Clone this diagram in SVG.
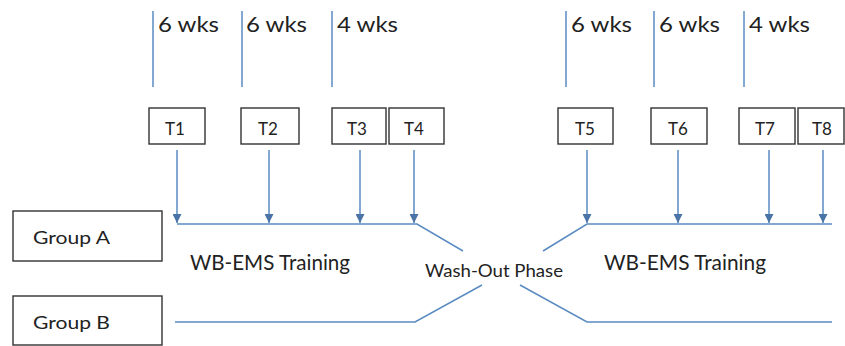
<svg xmlns="http://www.w3.org/2000/svg" width="845" height="346" viewBox="0 0 845 346">
<defs>
<marker id="ah" viewBox="0 0 10 10" refX="10" refY="5" markerWidth="9" markerHeight="9" markerUnits="userSpaceOnUse" orient="auto">
<path d="M0,0 L10,5 L0,10 Z" fill="#4a74a8"/>
</marker>
<style>
.ln{stroke:#5a8bc2;stroke-width:1.5;fill:none}
.ar{stroke:#5a8bc2;stroke-width:1.5;fill:none}
.bx{fill:#fff;stroke:#333;stroke-width:1.4}
.t{font-family:Lato,"Open Sans",sans-serif;fill:#222}
.wk{font-size:21px}
.tl{font-size:17px;text-anchor:middle}
.gp{font-size:18px}
.lb{font-size:21px}
.wo{font-size:17px}
</style>
</defs>
<rect width="845" height="346" fill="#fff"/>
<g id="weeks">
<line class="ln" x1="153" y1="11" x2="153" y2="87"/>
<line class="ln" x1="242" y1="11" x2="242" y2="87"/>
<line class="ln" x1="332" y1="11" x2="332" y2="87"/>
<line class="ln" x1="566" y1="11" x2="566" y2="87"/>
<line class="ln" x1="654" y1="11" x2="654" y2="87"/>
<line class="ln" x1="744" y1="11" x2="744" y2="87"/>
<text class="t wk" x="158" y="32" textLength="61" lengthAdjust="spacingAndGlyphs">6 wks</text>
<text class="t wk" x="246" y="32" textLength="61" lengthAdjust="spacingAndGlyphs">6 wks</text>
<text class="t wk" x="337" y="32" textLength="61" lengthAdjust="spacingAndGlyphs">4 wks</text>
<text class="t wk" x="571" y="32" textLength="61" lengthAdjust="spacingAndGlyphs">6 wks</text>
<text class="t wk" x="659" y="32" textLength="61" lengthAdjust="spacingAndGlyphs">6 wks</text>
<text class="t wk" x="749" y="32" textLength="61" lengthAdjust="spacingAndGlyphs">4 wks</text>
</g>
<g id="T1"><rect class="bx" x="149" y="108" width="56" height="36"/><text class="t tl" x="175" y="135">T1</text></g>
<g id="T2"><rect class="bx" x="241" y="108" width="58" height="36"/><text class="t tl" x="268" y="135">T2</text></g>
<g id="T3"><rect class="bx" x="332" y="108" width="54" height="36"/><text class="t tl" x="357" y="135">T3</text></g>
<g id="T4"><rect class="bx" x="389" y="108" width="55" height="36"/><text class="t tl" x="414" y="135">T4</text></g>
<g id="T5"><rect class="bx" x="558" y="108" width="55" height="36"/><text class="t tl" x="585" y="135">T5</text></g>
<g id="T6"><rect class="bx" x="651" y="108" width="56" height="36"/><text class="t tl" x="678" y="135">T6</text></g>
<g id="T7"><rect class="bx" x="739" y="108" width="56" height="36"/><text class="t tl" x="765" y="135">T7</text></g>
<g id="T8"><rect class="bx" x="798" y="108" width="46" height="36"/><text class="t tl" x="822" y="135">T8</text></g>
<g id="groupA"><rect class="bx" x="13" y="211" width="149" height="50"/><text class="t gp" x="33" y="244" textLength="77" lengthAdjust="spacingAndGlyphs">Group A</text></g>
<g id="groupB"><rect class="bx" x="13" y="296" width="149" height="49"/><text class="t gp" x="33" y="329" textLength="77" lengthAdjust="spacingAndGlyphs">Group B</text></g>
<g id="labels">
<text class="t lb" x="190" y="270" textLength="160" lengthAdjust="spacingAndGlyphs">WB-EMS Training</text>
<text class="t lb" x="604" y="270" textLength="162" lengthAdjust="spacingAndGlyphs">WB-EMS Training</text>
<text class="t wo" x="425" y="277" textLength="138" lengthAdjust="spacingAndGlyphs">Wash-Out Phase</text>
</g>
<g id="connectors">
<line class="ar" x1="177" y1="150" x2="177" y2="223" marker-end="url(#ah)"/>
<line class="ar" x1="269" y1="150" x2="269" y2="223" marker-end="url(#ah)"/>
<line class="ar" x1="360" y1="150" x2="360" y2="223" marker-end="url(#ah)"/>
<line class="ar" x1="414" y1="150" x2="414" y2="223" marker-end="url(#ah)"/>
<line class="ar" x1="587" y1="150" x2="587" y2="223" marker-end="url(#ah)"/>
<line class="ar" x1="678" y1="150" x2="678" y2="223" marker-end="url(#ah)"/>
<line class="ar" x1="769" y1="150" x2="769" y2="223" marker-end="url(#ah)"/>
<line class="ar" x1="823" y1="150" x2="823" y2="223" marker-end="url(#ah)"/>
<polyline class="ln" points="177,224 417,224 463,251"/>
<polyline class="ln" points="543,251 587,224 832,224"/>
<polyline class="ln" points="175,322 415,322 482,285"/>
<polyline class="ln" points="520,285 587,322 832,322"/>
</g>
</svg>
